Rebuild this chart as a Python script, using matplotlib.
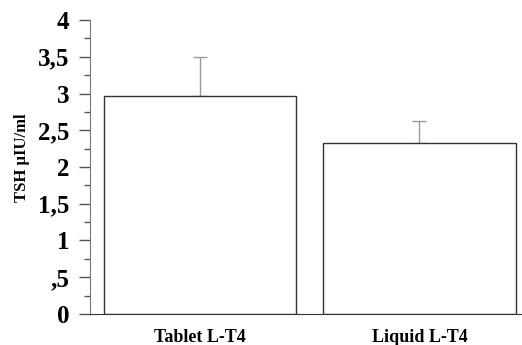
import matplotlib
matplotlib.use("Agg")
import matplotlib.pyplot as plt
from matplotlib.ticker import MultipleLocator

categories = ["Tablet L-T4", "Liquid L-T4"]
means = [2.97, 2.33]
errors_up = [0.53, 0.29]
yticks = [0, 0.5, 1, 1.5, 2, 2.5, 3, 3.5, 4]
ytick_labels = ["0", ",5", "1", "1,5", "2", "2,5", "3", "3,5", "4"]

plt.rcParams["font.family"] = ["Liberation Serif", "DejaVu Serif"]
plt.rcParams["font.weight"] = "bold"

fig = plt.figure(figsize=(5.22, 3.45), dpi=100)
ax = fig.add_axes([0.1724, 0.0899, 0.8276, 0.8521])

x = list(range(len(categories)))
ax.bar(x, means, width=0.875, color="white", edgecolor="#333333", linewidth=1.0, zorder=2)
ax.errorbar(x, means, yerr=[[0, 0], errors_up], fmt="none", ecolor="#999999",
            elinewidth=1.0, capsize=5, capthick=1.0, zorder=1)

ax.set_xlim(-0.501, 1.467)
ax.set_ylim(0, 4)
ax.set_yticks(yticks)
ax.set_yticklabels(ytick_labels, fontsize=18, fontweight="bold")
ax.yaxis.set_minor_locator(MultipleLocator(0.25))
ax.tick_params(axis="y", which="major", direction="out", length=8, width=1, color="#555555", pad=7)
ax.tick_params(axis="y", which="minor", direction="out", length=4, width=1, color="#555555")
ax.set_xticks(x)
ax.set_xticklabels(categories, fontsize=13, fontweight="bold")
ax.tick_params(axis="x", length=0, pad=10.5)

for s in ["top", "right"]:
    ax.spines[s].set_visible(False)
ax.spines["left"].set_color("#777777")
ax.spines["bottom"].set_color("#333333")

ax.set_ylabel("TSH µIU/ml", fontsize=12, fontweight="bold")
ax.yaxis.set_label_coords(-0.14, 0.53)

fig.savefig("out.png", dpi=100)
